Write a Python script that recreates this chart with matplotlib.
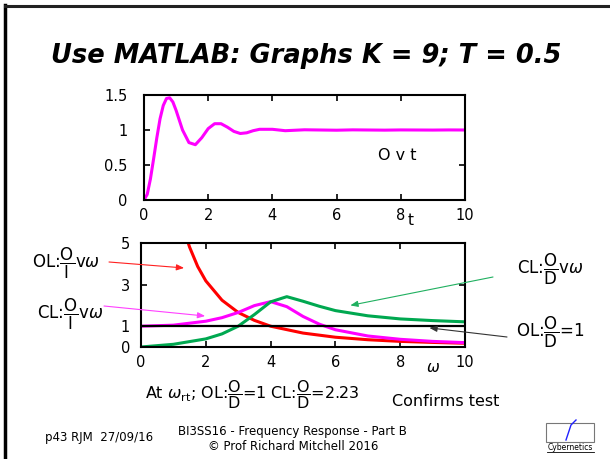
import matplotlib.pyplot as plt
from matplotlib.lines import Line2D
from matplotlib.patches import Rectangle

plt.rcParams['font.family'] = ['DejaVu Sans']
plt.rcParams['mathtext.fontset'] = 'dejavusans'

# step response O v t
t = [0, 0.1, 0.2, 0.3, 0.4, 0.5, 0.6, 0.7, 0.8, 0.9, 1.0, 1.2, 1.4, 1.6, 1.8,
     2.0, 2.2, 2.4, 2.6, 2.8, 3.0, 3.2, 3.4, 3.6, 4.0, 4.4, 5.0, 5.5, 6.0, 6.5,
     7.0, 7.5, 8.0, 8.5, 9.0, 9.5, 10.0]
o_t = [0, 0.08, 0.30, 0.59, 0.89, 1.16, 1.35, 1.45, 1.46, 1.40, 1.28, 1.00, 0.82,
       0.79, 0.89, 1.02, 1.09, 1.09, 1.04, 0.98, 0.95, 0.96, 0.99, 1.01, 1.01,
       0.99, 1.003, 1.0, 0.997, 1.002, 1.0, 0.998, 1.001, 1.0, 0.999, 1.001, 1.0]

# frequency responses
w_ol = [1.4, 1.5, 1.75, 2.0, 2.5, 3.0, 3.5, 4.0, 5.0, 6.0, 7.0, 8.0, 9.0, 10.0]
ol_oi = [5.27, 4.80, 3.87, 3.18, 2.25, 1.66, 1.28, 1.00, 0.67, 0.47, 0.35, 0.27, 0.22, 0.18]

w = [0, 1.0, 2.0, 2.5, 3.0, 3.5, 4.0, 4.5, 5.0, 5.5, 6.0, 7.0, 8.0, 9.0, 10.0]
cl_oi = [1.0, 1.05, 1.24, 1.41, 1.66, 1.99, 2.18, 1.94, 1.47, 1.10, 0.83, 0.53, 0.37, 0.27, 0.21]
cl_od = [0.0, 0.13, 0.39, 0.63, 1.00, 1.56, 2.17, 2.42, 2.20, 1.96, 1.75, 1.50, 1.35, 1.27, 1.21]
w_line = [0, 10]
ol_od = [1, 1]

W, H = 610, 459
fig = plt.figure(figsize=(W / 100, H / 100), dpi=100)


def px(x, y):
    return x / W, 1 - y / H


def style_axes(ax):
    for sp in ax.spines.values():
        sp.set_linewidth(1.5)
    ax.tick_params(direction='in', top=True, right=True, length=4, width=1.2,
                   labelsize=10.5)


# slide frame
fig.add_artist(Line2D([5 / W, 5 / W], [0, 1 - 5 / H], color='black', lw=2.5,
                      transform=fig.transFigure))
fig.add_artist(Line2D([5 / W, 1], [1 - 6 / H, 1 - 6 / H], color='#222222', lw=2.2,
                      transform=fig.transFigure))

fig.text(*px(306, 56), 'Use MATLAB: Graphs K = 9; T = 0.5', ha='center', va='center',
         fontsize=18.5, fontweight='bold', fontstyle='italic')

# top plot
ax1 = fig.add_axes([144 / W, 1 - 200 / H, 321 / W, 105 / H])
ax1.plot(t, o_t, color='#ff00ff', lw=2.2)
ax1.set_xlim(0, 10)
ax1.set_ylim(0, 1.5)
ax1.set_xticks([0, 2, 4, 6, 8, 10])
ax1.set_yticks([0, 0.5, 1, 1.5])
ax1.set_yticklabels(['0', '0.5', '1', '1.5'])
style_axes(ax1)
ax1.tick_params(axis='y', pad=12)
ax1.tick_params(axis='x', pad=6)
ax1.text(7.3, 0.63, 'O v t', fontsize=11.5, va='center')
fig.text(*px(411, 221), 't', fontsize=11, ha='center', va='center')

# bottom plot
ax2 = fig.add_axes([141 / W, 1 - 347 / H, 324 / W, 104 / H])
ax2.plot(w_ol, ol_oi, color='#ff0000', lw=2.2)
ax2.plot(w, cl_oi, color='#ff00ff', lw=2.2)
ax2.plot(w, cl_od, color='#00a850', lw=2.2)
ax2.plot(w_line, ol_od, color='black', lw=1.6)
ax2.set_xlim(0, 10)
ax2.set_ylim(0, 5)
ax2.set_xticks([0, 2, 4, 6, 8, 10])
ax2.set_yticks([0, 1, 3, 5])
style_axes(ax2)
ax2.tick_params(axis='y', pad=8)
ax2.tick_params(axis='x', pad=6)
fig.text(*px(433, 368), r'$\omega$', fontsize=11, ha='center', va='center')

lab = 12
fig.text(*px(32, 263), r'OL:$\dfrac{\mathrm{O}}{\mathrm{I}}$v$\omega$', fontsize=lab,
         ha='left', va='center')
fig.text(*px(37, 314), r'CL:$\dfrac{\mathrm{O}}{\mathrm{I}}$v$\omega$', fontsize=lab,
         ha='left', va='center')
fig.text(*px(517, 269), r'CL:$\dfrac{\mathrm{O}}{\mathrm{D}}$v$\omega$', fontsize=lab,
         ha='left', va='center')
fig.text(*px(516, 332), r'OL:$\dfrac{\mathrm{O}}{\mathrm{D}}$=1', fontsize=lab,
         ha='left', va='center')

arrows = [((109, 262), (1.33, 3.8), '#ff2020'),
          ((104, 306), (1.98, 1.49), '#ff40ff'),
          ((493, 277), (6.46, 2.0), '#20b060'),
          ((507, 337), (8.9, 0.92), '#333333')]
for tail, tip, col in arrows:
    ax2.annotate('', xy=tip, xycoords='data', xytext=px(*tail),
                 textcoords='figure fraction', annotation_clip=False,
                 arrowprops=dict(arrowstyle='-|>,head_length=0.45,head_width=0.18',
                                 color=col, lw=0.8, shrinkA=0, shrinkB=0))

fig.text(*px(145, 395), r'At $\omega_{\mathrm{rt}}$; OL:$\dfrac{\mathrm{O}}{\mathrm{D}}$=1 '
         r'CL:$\dfrac{\mathrm{O}}{\mathrm{D}}$=2.23', fontsize=11.5, ha='left', va='center')
fig.text(*px(392, 402), 'Confirms test', fontsize=11.5, ha='left', va='center')

# footer
fig.text(*px(45, 437), 'p43 RJM  27/09/16', fontsize=8.5, ha='left', va='center')
fig.text(*px(292, 431), 'BI3SS16 - Frequency Response - Part B', fontsize=8.5,
         ha='center', va='center')
fig.text(*px(293, 447), '\u00a9 Prof Richard Mitchell 2016', fontsize=8.5,
         ha='center', va='center')

# logo
fig.add_artist(Rectangle(px(546, 442), 48 / W, 19 / H, transform=fig.transFigure,
                         fill=False, edgecolor='#777777', lw=0.8))
fig.add_artist(Line2D([566 / W, 571 / W, 576 / W], [1 - 440 / H, 1 - 425 / H, 1 - 420 / H],
                      color='#2020ff', lw=1.0, transform=fig.transFigure))
fig.text(*px(570, 447), 'Cybernetics', fontsize=5.5, ha='center', va='center')
fig.add_artist(Line2D([547 / W, 594 / W], [1 - 452 / H, 1 - 452 / H], color='black',
                      lw=0.6, transform=fig.transFigure))

fig.savefig('out.png', dpi=100)
